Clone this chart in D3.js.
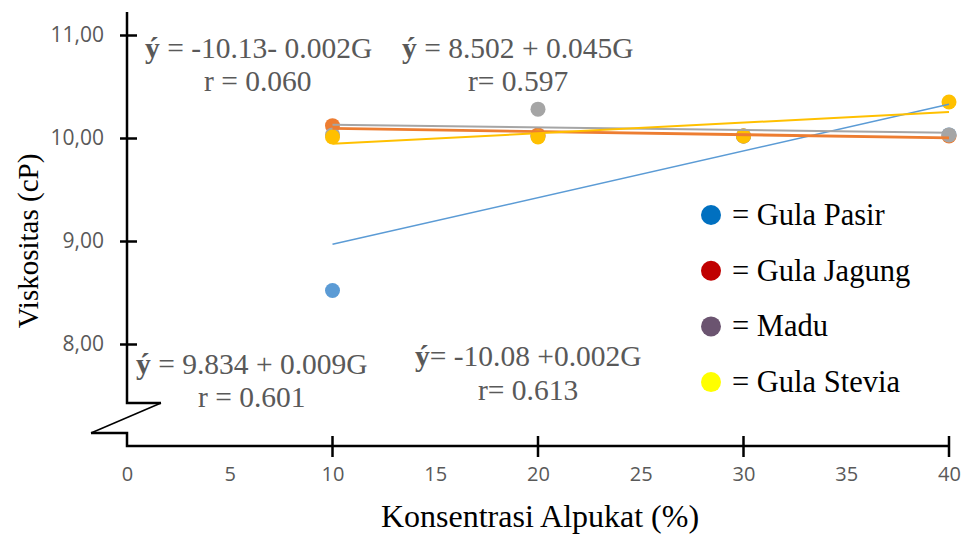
<!DOCTYPE html>
<html>
<head>
<meta charset="utf-8">
<script src="https://cdn.jsdelivr.net/npm/d3@7"></script>
<style>
  body { margin: 0; background: #fff; }
  svg { display: block; }
</style>
</head>
<body>
<script>
// Konsentrasi alpukat (%) on the x axis
var konsentrasi = [10, 20, 30, 40]

// Viskositas per series
var gulaPasir   = [8.52, 10.02, 10.02, 10.03]
var gulaJagung  = [10.12, 10.03, 10.02, 10.02]
var madu        = [10.03, 10.28, 10.02, 10.03]
var gulaStevia  = [10.01, 10.01, 10.02, 10.35]

var seriesNames  = ["Gula Pasir", "Gula Jagung", "Madu", "Gula Stevia"]
var seriesColor  = ["#5B9BD5", "#ED7D31", "#A5A5A5", "#FFC000"]
var trendWidth   = [1.5, 2.8, 2, 2]
var legendColor  = ["#0070C0", "#C00000", "#6B5470", "#FFFF00"]

var xTicks = [0, 5, 10, 15, 20, 25, 30, 35, 40]
var xMajor = [10, 20, 30, 40]
var yTicks = [8, 9, 10, 11]

// regression text as printed on the chart
var equations = [
  {eq: " = -10.13- 0.002G", r: "r = 0.060", x: 145, y: 58, rx: 204, ry: 91},
  {eq: " = 8.502 + 0.045G", r: "r= 0.597", x: 402, y: 58, rx: 468, ry: 91},
  {eq: " = 9.834 + 0.009G", r: "r = 0.601", x: 136, y: 374, rx: 198, ry: 407},
  {eq: "= -10.08 +0.002G", r: "r= 0.613", x: 415, y: 366, rx: 478, ry: 400}
]

var allSeries = [gulaPasir, gulaJagung, madu, gulaStevia]

var w = 968
var h = 536
var serif = "'Times New Roman', 'Liberation Serif', serif"
var sans = "'Open Sans', sans-serif"

var svg = d3.select("body").append("svg")
  .attr("width", w)
  .attr("height", h)

var xScale = d3.scaleLinear().domain([0, 40]).range([127, 949])
var yScale = d3.scaleLinear().domain([8, 11]).range([344, 35])

// least squares line for a series
function fit(ys) {
  var mx = d3.mean(konsentrasi), my = d3.mean(ys)
  var sxy = 0, sxx = 0
  konsentrasi.forEach(function(x, i) {
    sxy += (x - mx) * (ys[i] - my)
    sxx += (x - mx) * (x - mx)
  })
  var b = sxy / sxx
  return {a: my - b * mx, b: b}
}

// points, series in order
allSeries.forEach(function(ys, s) {
  svg.append("g").selectAll("circle")
    .data(ys)
    .enter()
    .append("circle")
    .attr("cx", function(d, i) { return xScale(konsentrasi[i]) })
    .attr("cy", function(d) { return yScale(d) })
    .attr("r", 7.5)
    .attr("fill", seriesColor[s])
})

// trendlines on top
allSeries.forEach(function(ys, s) {
  var f = fit(ys)
  var x0 = d3.min(konsentrasi), x1 = d3.max(konsentrasi)
  svg.append("line")
    .attr("x1", xScale(x0)).attr("y1", yScale(f.a + f.b * x0))
    .attr("x2", xScale(x1)).attr("y2", yScale(f.a + f.b * x1))
    .attr("stroke", seriesColor[s])
    .attr("stroke-width", trendWidth[s])
})

// y axis
var yAxis = svg.append("g")
  .attr("transform", "translate(127,0)")
  .call(d3.axisLeft(yScale).tickValues(yTicks).tickSize(7)
    .tickFormat(function(d) { return d3.format(".2f")(d).replace(".", ",") }))
yAxis.select(".domain").remove()
yAxis.selectAll(".tick line").attr("x1", -7).attr("x2", 10)
  .attr("stroke", "#000").attr("stroke-width", 2.5)
yAxis.selectAll(".tick text")
  .attr("x", -23)
  .style("font-family", sans).style("font-size", "21px").attr("fill", "#595959")

// x axis
var xAxis = svg.append("g")
  .attr("transform", "translate(0,446)")
  .call(d3.axisBottom(xScale).tickValues(xTicks).tickSize(0))
xAxis.select(".domain").remove()
xAxis.selectAll(".tick text")
  .attr("y", 21)
  .style("font-family", sans).style("font-size", "20px").attr("fill", "#595959")
xAxis.selectAll(".major")
  .data(xMajor)
  .enter()
  .append("line")
  .attr("x1", function(d) { return xScale(d) }).attr("x2", function(d) { return xScale(d) })
  .attr("y1", -10).attr("y2", 11)
  .attr("stroke", "#000").attr("stroke-width", 2.5)

// axis lines with the break
svg.append("path")
  .attr("d", "M127,12 L127,403 L161,403")
  .attr("fill", "none").attr("stroke", "#000").attr("stroke-width", 2.5)
svg.append("path")
  .attr("d", "M161,403 L91,433")
  .attr("fill", "none").attr("stroke", "#000").attr("stroke-width", 1.5)
svg.append("path")
  .attr("d", "M91,433 L127,433 L127,446 L" + xScale(40) + ",446")
  .attr("fill", "none").attr("stroke", "#000").attr("stroke-width", 2.5)

// equations
equations.forEach(function(e) {
  var t = svg.append("text")
    .attr("x", e.x).attr("y", e.y)
    .style("font-family", serif).style("font-size", "29.5px").attr("fill", "#595959")
  t.append("tspan").style("font-weight", "bold").text("ý")
  t.append("tspan").text(e.eq)
  svg.append("text")
    .attr("x", e.rx).attr("y", e.ry)
    .style("font-family", serif).style("font-size", "29.5px").attr("fill", "#595959")
    .text(e.r)
})

// legend
var legend = svg.append("g").selectAll("g")
  .data(seriesNames)
  .enter()
  .append("g")
  .attr("transform", function(d, i) { return "translate(711," + (215 + i * 55.7) + ")" })
legend.append("circle")
  .attr("r", 10)
  .attr("fill", function(d, i) { return legendColor[i] })
legend.append("text")
  .attr("x", 21).attr("y", 10)
  .style("font-family", serif).style("font-size", "30.5px").attr("fill", "#000")
  .text(function(d) { return "= " + d })

// axis titles
svg.append("text")
  .attr("x", 540).attr("y", 527)
  .style("text-anchor", "middle")
  .style("font-family", serif).style("font-size", "32px")
  .text("Konsentrasi Alpukat (%)")

svg.append("text")
  .attr("transform", "translate(38,241) rotate(-90)")
  .style("text-anchor", "middle")
  .style("font-family", serif).style("font-size", "29px")
  .text("Viskositas (cP)")
</script>
</body>
</html>
